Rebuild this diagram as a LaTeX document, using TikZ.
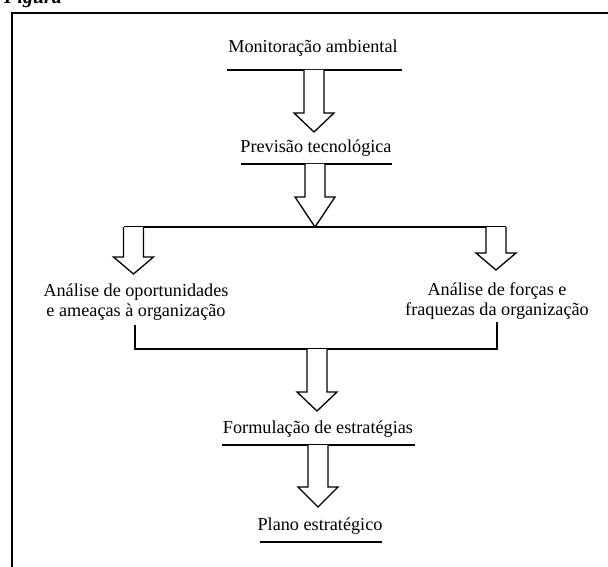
\documentclass[tikz,border=0pt]{standalone}
\usepackage{fontspec}
\setmainfont{Liberation Serif}
\usetikzlibrary{calc}
\tikzset{
  lbl/.style={anchor=base, inner sep=0pt, font=\fontsize{18.2}{19.5}\selectfont, align=center},
  uline/.style={line width=1.4pt},
  conn/.style={line width=1.3pt},
  hollow/.style={line width=1.3pt, line join=miter, fill=white},
  frame/.style={line width=1.8pt},
}
\newcommand\blockarrow[3][19]{%
  \draw[hollow] let \p1=(#2), \p2=(#3) in
    (\x2-10pt,\y1) -- (\x2-10pt,\y2+#1pt) -- (\x2-20pt,\y2+#1pt) -- (\p2)
    -- (\x2+20pt,\y2+#1pt) -- (\x2+10pt,\y2+#1pt) -- (\x2+10pt,\y1);}
\begin{document}
\begin{tikzpicture}[x=1pt,y=-1pt]
\useasboundingbox (0,0) rectangle (608,567);
% frame
\coordinate (fb) at (12,567);
\coordinate (fc) at (12,13);
\coordinate (fr) at (608,13);
\draw[frame] (fb) -- (fc) -- (fr);
\node[anchor=base west, inner sep=0pt, font=\fontsize{20}{22}\selectfont\bfseries\itshape] (fig) at (4,4) {Figura};

% texts (multi-line nodes: base anchor = last line's baseline)
\node[lbl] (mon) at (313,53) {Monitoração ambiental};
\node[lbl] (prev) at (316,153) {Previsão tecnológica};
\node[lbl] (opp) at (136,316) {Análise de oportunidades\\e ameaças à organização};
\node[lbl] (forc) at (497,315) {Análise de forças e\\fraquezas da organização};
\node[lbl] (form) at (318,433) {Formulação de estratégias};
\node[lbl] (plan) at (320,530) {Plano estratégico};

% underlines
\draw[uline] (227,70) -- (402,70);
\draw[uline] (241,164) -- (392,164);
\draw[uline] (222,445) -- (415,445);
\draw[uline] (260,542) -- (382,542);

% connector coordinates
\coordinate (a1s) at (314,70);   \coordinate (a1t) at (314,132);
\coordinate (a2s) at (315,164);  \coordinate (a2t) at (315,227);
\coordinate (jl) at (123.5,227); \coordinate (jr) at (506,227);
\coordinate (a3s) at (133.5,227); \coordinate (a3t) at (133.5,274);
\coordinate (a4s) at (496,227);  \coordinate (a4t) at (496,270);
\coordinate (bl) at (135,325);   \coordinate (br) at (497,322);
\coordinate (bl2) at (135,349);  \coordinate (br2) at (497,349);
\coordinate (a5s) at (317,349);  \coordinate (a5t) at (317,411);
\coordinate (a6s) at (318,445);  \coordinate (a6t) at (318,507);

% junction and bracket
\draw[conn] (jl) -- (jr);
\draw[conn] (bl) -- (bl2) -- (br2) -- (br);

% hollow arrows
\blockarrow{a1s}{a1t}
\blockarrow[30]{a2s}{a2t}
\blockarrow[17]{a3s}{a3t}
\blockarrow[17]{a4s}{a4t}
\blockarrow{a5s}{a5t}
\blockarrow[20]{a6s}{a6t}
\end{tikzpicture}
\end{document}
